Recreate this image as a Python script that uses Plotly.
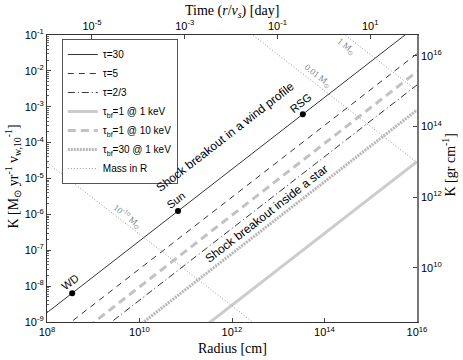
import numpy as np
import plotly.graph_objects as go

# ---- data ----
radius_edges = [1e8, 1e16]          # cm, x-range of the lines

# optical-depth lines: K at R = 1e16 cm (all scale as K ~ R)
line_names = ["τ=30", "τ=5", "τ=2/3",
              "τ<sub>bf</sub>=1 @ 1 keV", "τ<sub>bf</sub>=1 @ 10 keV",
              "τ<sub>bf</sub>=30 @ 1 keV"]
line_k16 = [0.182, 0.0302, 0.00405, 2.95e-5, 9.5e-3, 8.1e-4]
line_color = ["black", "black", "black", "#cccccc", "#c2c2c2", "#b8b8b8"]
line_width = [0.8, 0.8, 0.8, 3, 3, 3]
line_dash = ["solid", "6px,5px", "7px,3px,1px,3px", "solid", "8px,5px", "2px,1px"]

# mass in R lines: K = M * C / R
mass_msun = [1e-10, 1e-2, 1.0]
mass_labels = ["10<sup>-10</sup> M<sub>⊙</sub>", "0.01 M<sub>⊙</sub>", "1 M<sub>⊙</sub>"]
mass_const = 2.8e13

# objects on the tau=30 line
obj_names = ["WD", "Sun", "RSG"]
obj_radius = [3.5e8, 6.8e10, 3.4e13]

# secondary axes: time = R / v_s, K in gr/cm
v_s_day = 10 ** 13.97      # cm per day
k_gr_factor = 10 ** 17.53

R = np.array(radius_edges)
fig = go.Figure()

for name, k16, c, w, d in zip(line_names, line_k16, line_color, line_width, line_dash):
    fig.add_trace(go.Scatter(x=R, y=k16 * R / 1e16, mode="lines", name=name,
                             line=dict(color=c, width=w, dash=d)))

for i, m in enumerate(mass_msun):
    fig.add_trace(go.Scatter(x=R, y=m * mass_const / R, mode="lines", name="Mass in R",
                             legendgroup="mass", showlegend=(i == 0),
                             line=dict(color="#999999", width=1, dash="1px,2px")))

obj_k = [line_k16[0] * r / 1e16 for r in obj_radius]
fig.add_trace(go.Scatter(x=obj_radius, y=obj_k, mode="markers", showlegend=False,
                         marker=dict(color="black", size=6)))

# invisible traces so the top / right axes get drawn
k30 = line_k16[0] * R / 1e16
fig.add_trace(go.Scatter(x=R / v_s_day, y=k30, xaxis="x2", yaxis="y", mode="lines",
                         line=dict(width=0), opacity=0, showlegend=False, hoverinfo="skip"))
fig.add_trace(go.Scatter(x=R, y=k30 * k_gr_factor, xaxis="x", yaxis="y2", mode="lines",
                         line=dict(width=0), opacity=0, showlegend=False, hoverinfo="skip"))

# annotations
ang = -37.8
sans = "Liberation Sans, Arial, sans-serif"
serif = "Liberation Serif, Times New Roman, serif"
ann = []
ann.append(dict(x=11.85, y=-3.84, text="Shock breakout in a wind profile", textangle=ang,
                showarrow=False, font=dict(family=sans, size=12, color="black")))
ann.append(dict(x=12.74, y=-5.99, text="Shock breakout inside a star", textangle=ang,
                showarrow=False, font=dict(family=sans, size=12, color="black")))
for nm, r, k in zip(obj_names, obj_radius, obj_k):
    ann.append(dict(x=np.log10(r), y=np.log10(k), text=nm, textangle=ang, showarrow=False,
                    xshift=-2, yshift=11, font=dict(family=sans, size=11, color="black")))
mass_pos = [(9.75, -6.07), (13.84, -2.14), (14.47, -1.33)]
for lab, (px_, py_) in zip(mass_labels, mass_pos):
    ann.append(dict(x=px_, y=py_, text=lab, textangle=-ang, showarrow=False,
                    font=dict(family=serif, size=9, color="#888888")))
for a in ann:
    a["xref"] = "x"
    a["yref"] = "y"

# axis titles placed by hand
tfont = dict(family=serif, size=14, color="black")
ttl = dict(xref="paper", yref="paper", showarrow=False, xanchor="center",
           yanchor="middle", font=tfont)
ann += [
    dict(ttl, x=0.5, y=1, yshift=24, text="Time (<i>r</i>/<i>v<sub>s</sub></i>) [day]"),
    dict(ttl, x=0.5, y=0, yshift=-26, text="Radius [cm]"),
    dict(ttl, x=0, y=0.5, xshift=-34, yshift=2, textangle=-90,
         text="K [M<sub>⊙</sub> yr<sup>-1</sup> v<sub>w,10</sub><sup>-1</sup>]"),
    dict(ttl, x=1, y=0.5, xshift=32, yshift=13, textangle=-90,
         text="K [gr cm<sup>-1</sup>]"),
]

def sup(base, e):
    return f"{base}<sup>{e}</sup>"

minor_left = [m * 10.0 ** d for d in range(-9, -1) for m in range(2, 10)]
common = dict(type="log", showgrid=False, zeroline=False, automargin=False,
              ticks="inside", ticklen=4, tickcolor="#444",
              tickfont=dict(family=sans, size=11), showline=True)

fig.update_layout(
    width=463, height=360,
    margin=dict(l=47, r=46, t=35, b=38),
    plot_bgcolor="white", paper_bgcolor="white",
    font=dict(family=sans, size=11, color="black"),
    annotations=ann,
    legend=dict(x=0.04, y=0.986, xanchor="left", yanchor="top",
                bgcolor="white", bordercolor="#555555", borderwidth=1,
                font=dict(family=sans, size=10), tracegroupgap=0, itemwidth=30),
    xaxis=dict(common, range=[8, 16],
               tickvals=[1e8, 1e10, 1e12, 1e14, 1e16],
               ticktext=[sup("10", e) for e in [8, 10, 12, 14, 16]],
               linecolor="#333", linewidth=1),
    yaxis=dict(common, range=[-9, -1],
               tickvals=[10.0 ** e for e in range(-9, 0)],
               ticktext=[sup("10", e) for e in range(-9, 0)],
               minor=dict(tickvals=minor_left, ticks="inside", ticklen=2, tickcolor="#666"),
               linecolor="#333", linewidth=1),
    xaxis2=dict(common, range=[-5.97, 2.01], overlaying="x", side="top", anchor="y",
                tickvals=[1e-5, 1e-3, 1e-1, 1e1],
                ticktext=[sup("10", e) for e in [-5, -3, -1, 1]],
                linecolor="#333", linewidth=1),
    yaxis2=dict(common, range=[8.47, 16.59], overlaying="y", side="right", anchor="x",
                tickvals=[1e10, 1e12, 1e14, 1e16],
                ticktext=[sup("10", e) for e in [10, 12, 14, 16]],
                linecolor="#777", linewidth=1.5),
)

# drop the default page margin so the figure fills the window
fig.write_html("out.html", config={"displayModeBar": False},
               post_script="document.body.style.margin='0';")
